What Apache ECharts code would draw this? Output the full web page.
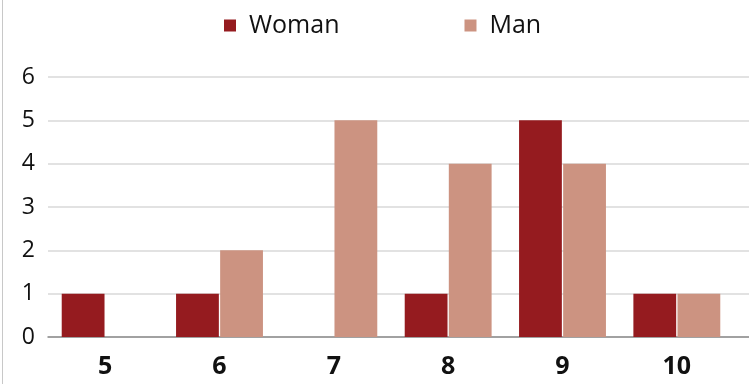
<!DOCTYPE html>
<html>
<head>
<meta charset="utf-8">
<style>
  html, body { margin: 0; padding: 0; background: #fff; }
  #chart { width: 749px; height: 384px; }
</style>
<script src="https://cdn.jsdelivr.net/npm/echarts@6/dist/echarts.min.js"></script>
</head>
<body>
<div id="chart"></div>
<script>
// Score categories and counts per group
const categories = ['5', '6', '7', '8', '9', '10'];
const woman = [1, 1, 0, 1, 5, 1];
const man = [0, 2, 5, 4, 4, 1];
const yTicks = [0, 1, 2, 3, 4, 5, 6];

const COLOR_WOMAN = '#951b1f';
const COLOR_MAN = '#cc9381';

const chart = echarts.init(document.getElementById('chart'));

chart.setOption({
  animation: false,
  backgroundColor: '#ffffff',
  legend: {
    top: 8,
    left: 219,
    itemWidth: 12,
    itemHeight: 12,
    itemGap: 125,
    icon: 'rect',
    textStyle: {
      fontFamily: 'Open Sans', fontSize: 25, color: '#111',
      padding: [0, 0, 0, 8]
    },
    data: ['Woman', 'Man']
  },
  graphic: [{
    type: 'line',
    shape: { x1: 2.5, y1: 0, x2: 2.5, y2: 384 },
    style: { stroke: '#c8c8c8', lineWidth: 1 }
  }],
  grid: [
    // full-width background grid carrying the gridlines and baseline
    { left: 48, right: 0, top: 77, bottom: 47 },
    // plotting grid for the bars
    { left: 48, right: 15, top: 77, bottom: 47 }
  ],
  xAxis: [
    {
      gridIndex: 0, type: 'category', data: categories,
      axisLine: { show: true, lineStyle: { color: '#8c8c8c', width: 1.5 } },
      axisTick: { show: false }, axisLabel: { show: false }
    },
    {
      gridIndex: 1, type: 'category', data: categories,
      axisLine: { show: false }, axisTick: { show: false },
      axisLabel: {
        margin: 17,
        fontFamily: 'Open Sans', fontWeight: 'bold', fontSize: 25, color: '#111'
      }
    }
  ],
  yAxis: [
    {
      gridIndex: 0, type: 'value',
      min: yTicks[0], max: yTicks[yTicks.length - 1], interval: 1,
      axisLine: { show: false }, axisTick: { show: false },
      axisLabel: {
        margin: 13,
        fontFamily: 'Open Sans', fontSize: 23, color: '#111'
      },
      splitLine: { show: true, lineStyle: { color: '#d9d9d9', width: 1.5 } }
    },
    {
      gridIndex: 1, type: 'value',
      min: yTicks[0], max: yTicks[yTicks.length - 1], interval: 1,
      axisLine: { show: false }, axisTick: { show: false },
      axisLabel: { show: false }, splitLine: { show: false }
    }
  ],
  series: [
    {
      name: 'Woman', type: 'bar', xAxisIndex: 1, yAxisIndex: 1,
      data: woman, barGap: '3%', barCategoryGap: '24%',
      itemStyle: { color: COLOR_WOMAN }
    },
    {
      name: 'Man', type: 'bar', xAxisIndex: 1, yAxisIndex: 1,
      data: man, barGap: '3%', barCategoryGap: '24%',
      itemStyle: { color: COLOR_MAN }
    }
  ]
});
</script>
</body>
</html>
